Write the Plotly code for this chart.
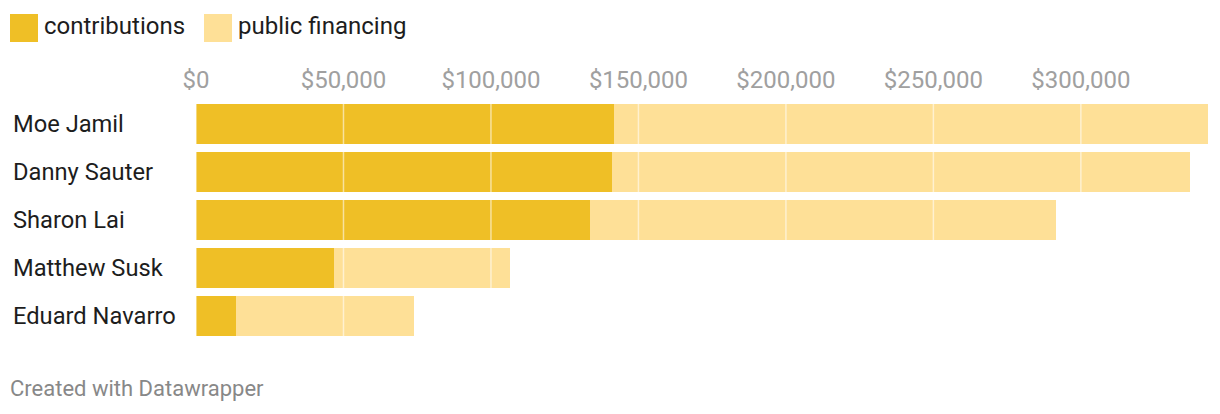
import plotly.graph_objects as go

candidates = ['Moe Jamil', 'Danny Sauter', 'Sharon Lai', 'Matthew Susk', 'Eduard Navarro']
contributions = [141700, 141100, 133600, 46800, 13600]
public_financing = [201350, 195850, 157900, 59600, 60300]
tick_values = [0, 50000, 100000, 150000, 200000, 250000, 300000]
tick_labels = ['$0', '$50,000', '$100,000', '$150,000', '$200,000', '$250,000', '$300,000']

DARK = '#efbf26'
LIGHT = '#fee097'
FONT = 'Roboto, Arial, sans-serif'

# page body has an 8px margin, so the figure is shifted by 8px
OFF = 8
W, H = 1220 - OFF, 414 - OFF
ML, MR, MT, MB = 196 - OFF, 12, 100 - OFF, 74
PW = W - ML - MR
PH = H - MT - MB


def px_x(p):
    return (p - OFF - ML) / PW


def px_y(p):
    return (H - MB - (p - OFF)) / PH


fig = go.Figure()

fig.add_trace(go.Bar(
    y=candidates, x=contributions, orientation='h', name='contributions',
    marker=dict(color=DARK, line=dict(width=0)), hoverinfo='x+y'
))
fig.add_trace(go.Bar(
    y=candidates, x=public_financing, orientation='h', name='public financing',
    marker=dict(color=LIGHT, line=dict(width=0)), hoverinfo='x+y'
))

# gridlines drawn over the bars, like the original
for v in tick_values:
    fig.add_shape(type='line', xref='x', yref='paper', x0=v, x1=v, y0=0, y1=1,
                  line=dict(color='rgba(255,255,255,0.55)', width=1.5), layer='above')

# left-aligned category labels
for name in candidates:
    fig.add_annotation(text=name, xref='paper', yref='y', x=px_x(11), y=name,
                       xanchor='left', yanchor='middle', showarrow=False,
                       font=dict(family=FONT, size=23.7, color='#1d1d1d'))

# custom legend with large swatches
legend_items = [('contributions', DARK, 10), ('public financing', LIGHT, 204)]
for label, color, left in legend_items:
    fig.add_shape(type='rect', xref='paper', yref='paper',
                  x0=px_x(left), x1=px_x(left + 28), y0=px_y(42), y1=px_y(14),
                  fillcolor=color, line=dict(width=0))
    fig.add_annotation(text=label, xref='paper', yref='paper',
                       x=px_x(left + 32), y=px_y(26), xanchor='left', yanchor='middle',
                       showarrow=False, font=dict(family=FONT, size=24, color='#1d1d1d'))

fig.add_annotation(text='Created with Datawrapper', xref='paper', yref='paper',
                   x=px_x(8), y=px_y(388), xanchor='left', yanchor='middle',
                   showarrow=False, font=dict(family=FONT, size=22, color='#888888'))

fig.update_layout(
    width=W, height=H,
    margin=dict(l=ML, r=MR, t=MT, b=MB),
    barmode='stack', bargap=0.167,
    showlegend=False,
    paper_bgcolor='white', plot_bgcolor='white',
    font=dict(family=FONT),
    xaxis=dict(side='top', range=[0, 343100], tickvals=tick_values, ticktext=tick_labels,
               showgrid=False, zeroline=False, showline=False, ticks='',
               ticklabelstandoff=6,
               tickfont=dict(family=FONT, size=24, color='#a0a0a0'), fixedrange=True),
    yaxis=dict(autorange='reversed', showticklabels=False, showgrid=False,
               zeroline=False, showline=False, ticks='', fixedrange=True),
)

fig.write_html("out.html")
